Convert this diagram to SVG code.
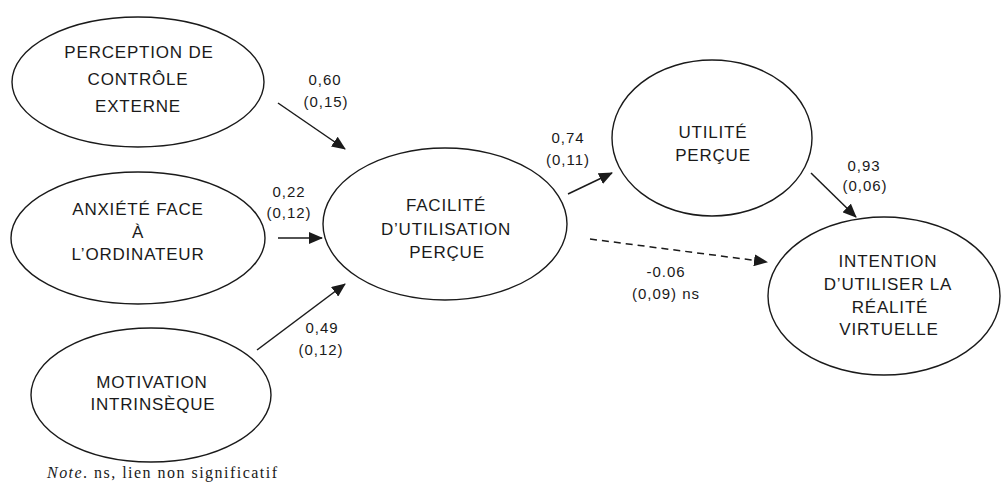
<svg xmlns="http://www.w3.org/2000/svg" width="1002" height="493" viewBox="0 0 1002 493">
  <style>
    .node ellipse { fill: none; stroke: #1a1a1a; stroke-width: 1.4; }
    .node text { font-family: "Liberation Sans", Arial, sans-serif; font-size: 17px; letter-spacing: 0.8px; fill: #1a1a1a; text-anchor: middle; }
    .edge { stroke: #1a1a1a; stroke-width: 1.5; fill: none; }
    .dash { stroke-dasharray: 7 5; }
    .lbl { font-family: "Liberation Sans", Arial, sans-serif; font-size: 15px; letter-spacing: 1px; fill: #1a1a1a; text-anchor: middle; }
    .note { font-family: "Liberation Serif", "Times New Roman", serif; font-size: 16px; fill: #1a1a1a; }
  </style>
  <defs>
    <marker id="arr" markerUnits="userSpaceOnUse" markerWidth="14" markerHeight="12" refX="13" refY="6" orient="auto">
      <path d="M0,0 L14,6 L0,12 Z" fill="#1a1a1a"/>
    </marker>
  </defs>
  <rect width="1002" height="493" fill="#ffffff"/>

  <g id="n-perception" class="node">
    <ellipse cx="138" cy="82" rx="126" ry="65"/>
    <text x="139" y="58">PERCEPTION DE</text>
    <text x="138" y="85">CONTRÔLE</text>
    <text x="138" y="112">EXTERNE</text>
  </g>
  <g id="n-anxiete" class="node">
    <ellipse cx="138" cy="238" rx="127" ry="66"/>
    <text x="138" y="215">ANXIÉTÉ FACE</text>
    <text x="138" y="238">À</text>
    <text x="138" y="260">L’ORDINATEUR</text>
  </g>
  <g id="n-motivation" class="node">
    <ellipse cx="151" cy="395" rx="120" ry="67"/>
    <text x="152" y="388">MOTIVATION</text>
    <text x="153" y="410">INTRINSÈQUE</text>
  </g>
  <g id="n-facilite" class="node">
    <ellipse cx="445" cy="224" rx="122" ry="76"/>
    <text x="446" y="211">FACILITÉ</text>
    <text x="446" y="235">D’UTILISATION</text>
    <text x="447" y="258">PERÇUE</text>
  </g>
  <g id="n-utilite" class="node">
    <ellipse cx="712" cy="138" rx="100" ry="78"/>
    <text x="713" y="138">UTILITÉ</text>
    <text x="713" y="161">PERÇUE</text>
  </g>
  <g id="n-intention" class="node">
    <ellipse cx="884" cy="296" rx="116" ry="79"/>
    <text x="888" y="267">INTENTION</text>
    <text x="888" y="290">D’UTILISER LA</text>
    <text x="890" y="313">RÉALITÉ</text>
    <text x="889" y="335">VIRTUELLE</text>
  </g>

  <g id="connectors">
    <line class="edge" x1="278" y1="103" x2="345" y2="149" marker-end="url(#arr)"/>
    <line class="edge" x1="278" y1="238" x2="322" y2="238" marker-end="url(#arr)"/>
    <line class="edge" x1="257" y1="350" x2="345" y2="284" marker-end="url(#arr)"/>
    <line class="edge" x1="568" y1="194" x2="612" y2="173" marker-end="url(#arr)"/>
    <line class="edge dash" x1="590" y1="239" x2="767" y2="262" marker-end="url(#arr)"/>
    <line class="edge" x1="811" y1="173" x2="856" y2="217" marker-end="url(#arr)"/>
  </g>

  <g id="labels">
    <text class="lbl" x="325" y="85">0,60</text>
    <text class="lbl" x="326" y="107">(0,15)</text>
    <text class="lbl" x="289" y="197">0,22</text>
    <text class="lbl" x="289" y="218">(0,12)</text>
    <text class="lbl" x="322" y="333">0,49</text>
    <text class="lbl" x="321" y="355">(0,12)</text>
    <text class="lbl" x="568" y="143">0,74</text>
    <text class="lbl" x="568" y="165">(0,11)</text>
    <text class="lbl" x="666" y="277">-0.06</text>
    <text class="lbl" x="666" y="299">(0,09) ns</text>
    <text class="lbl" x="864" y="171">0,93</text>
    <text class="lbl" x="865" y="191">(0,06)</text>
  </g>

  <text class="note" x="47" y="478" textLength="230" lengthAdjust="spacing"><tspan font-style="italic">Note</tspan>. ns, lien non significatif</text>
</svg>
